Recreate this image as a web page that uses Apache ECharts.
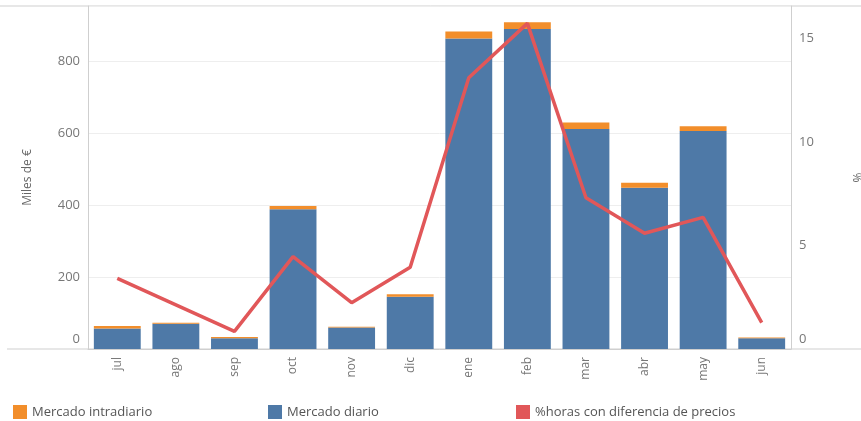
<!DOCTYPE html>
<html>
<head>
<meta charset="utf-8">
<script src="https://cdn.jsdelivr.net/npm/echarts@6/dist/echarts.min.js"></script>
<style>
  html, body { margin: 0; padding: 0; background: #fff; }
  #chart { width: 861px; height: 421px; }
</style>
</head>
<body>
<div id="chart"></div>
<script>
// datos
const meses = ['jul', 'ago', 'sep', 'oct', 'nov', 'dic', 'ene', 'feb', 'mar', 'abr', 'may', 'jun']
const mercadoDiario = [57, 70, 30, 388, 60, 145, 863, 889, 611, 448, 606, 30]
const mercadoIntradiario = [7, 3, 3, 9, 2, 7, 19, 19, 18, 14, 13, 2]
const pctHoras = [3.41, 2.13, 0.85, 4.46, 2.24, 3.95, 13.1, 15.73, 7.31, 5.59, 6.36, 1.27]

const FONT = '"Open Sans", "Noto Sans", sans-serif'
const AXIS_GRAY = '#cfcfcf'

const chart = echarts.init(document.getElementById('chart'))

// el "0" de Tableau va un poco subido
function labelFmt(value) {
    if (value === 0) return '{z|0}'
    return String(value)
}

const option = {
    animation: false,
    textStyle: { fontFamily: FONT },
    grid: { left: 88, right: 70, top: 6, bottom: 72, outerBoundsMode: 'none' },
    legend: [
        {
            data: ['Mercado intradiario'],
            left: 8, top: 400,
            itemWidth: 14, itemHeight: 14, icon: 'rect',
            textStyle: { color: '#555', fontSize: 13, fontFamily: FONT }
        },
        {
            data: ['Mercado diario'],
            left: 263, top: 400,
            itemWidth: 14, itemHeight: 14, icon: 'rect',
            textStyle: { color: '#555', fontSize: 13, fontFamily: FONT }
        },
        {
            data: ['%horas con diferencia de precios'],
            left: 511, top: 400,
            itemWidth: 14, itemHeight: 14, icon: 'rect',
            itemStyle: { color: '#E15759' },
            textStyle: { color: '#555', fontSize: 13, fontFamily: FONT }
        }
    ],
    xAxis: {
        type: 'category',
        data: meses,
        axisLine: { lineStyle: { color: AXIS_GRAY } },
        axisTick: { show: false },
        axisLabel: { rotate: 90, color: '#777', fontSize: 12, margin: 8 }
    },
    yAxis: [
        {
            type: 'value',
            min: 0, max: 953, interval: 200,
            name: 'Miles de €',
            nameLocation: 'middle',
            nameGap: 54,
            nameTextStyle: { color: '#666', fontSize: 12 },
            axisLine: { show: true, lineStyle: { color: AXIS_GRAY } },
            axisTick: { show: false },
            splitLine: { lineStyle: { color: '#eeeeee' } },
            axisLabel: {
                color: '#777', fontSize: 13, margin: 8,
                showMaxLabel: false,
                formatter: labelFmt,
                rich: { z: { color: '#777', fontSize: 13, padding: [0, 0, 20, 0] } }
            }
        },
        {
            type: 'value',
            min: 0, max: 16.57, interval: 5,
            name: '%',
            nameLocation: 'middle',
            nameGap: 62,
            nameTextStyle: { color: '#666', fontSize: 12 },
            axisLine: { show: true, lineStyle: { color: AXIS_GRAY } },
            axisTick: { show: false },
            splitLine: { show: false },
            axisLabel: {
                color: '#777', fontSize: 13, margin: 8,
                showMaxLabel: false,
                formatter: labelFmt,
                rich: { z: { color: '#777', fontSize: 13, padding: [0, 0, 20, 0] } }
            }
        }
    ],
    graphic: [
        // bordes de Tableau a todo lo ancho
        { type: 'line', shape: { x1: 0, y1: 6, x2: 861, y2: 6 }, style: { stroke: AXIS_GRAY, lineWidth: 1 }, silent: true },
        { type: 'line', shape: { x1: 7, y1: 349, x2: 861, y2: 349 }, style: { stroke: AXIS_GRAY, lineWidth: 1 }, silent: true }
    ],
    series: [
        {
            name: 'Mercado diario',
            type: 'bar',
            stack: 'total',
            barWidth: '80%',
            itemStyle: { color: '#4E79A7' },
            data: mercadoDiario
        },
        {
            name: 'Mercado intradiario',
            type: 'bar',
            stack: 'total',
            barWidth: '80%',
            itemStyle: { color: '#F28E2B' },
            data: mercadoIntradiario
        },
        {
            name: '%horas con diferencia de precios',
            type: 'line',
            yAxisIndex: 1,
            showSymbol: false,
            symbol: 'none',
            lineStyle: { color: '#E15759', width: 3.5 },
            itemStyle: { color: '#E15759' },
            z: 5,
            data: pctHoras
        }
    ]
}

chart.setOption(option)
</script>
</body>
</html>
